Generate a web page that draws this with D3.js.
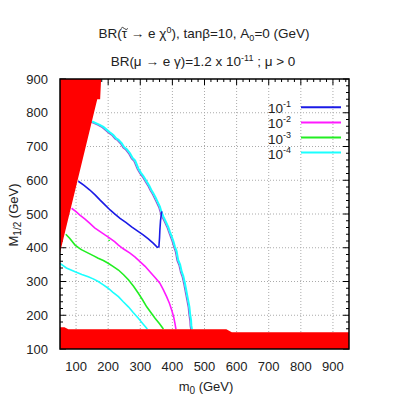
<!DOCTYPE html>
<html>
<head>
<meta charset="utf-8">
<script src="https://cdn.jsdelivr.net/npm/d3@7"></script>
<style>
  body { margin: 0; background: #fff; }
  text { font-family: "Liberation Sans", Arial, sans-serif; fill: #222; }
</style>
</head>
<body>
<svg id="chart" width="399" height="399"></svg>
<script>
// tick values
const xTicks = [100, 200, 300, 400, 500, 600, 700, 800, 900];
const yTicks = [100, 200, 300, 400, 500, 600, 700, 800, 900];

// legend entries: exponent of BR
const legendExp = ["-1", "-2", "-3", "-4"];
const legendColors = ["#1a1ae6", "#ff1aff", "#22ee22", "#1affff"];

// contours [m0, M1/2]
const br1 = [[107,597],[125,585],[143,571],[160,556],[175,541],[190,527],[206,512],[222,499],[237,487],[255,475],[273,462],[291,450],[309,438],[325,426],[341,413],[353,401],[358,403],[360,430],[361,452],[363,480],[365,495],[367,508]];
const br2 = [[86,517],[100,507],[112,497],[128,485],[143,472],[158,459],[175,448],[190,438],[206,428],[220,418],[232,408],[247,397],[268,384],[284,372],[299,359],[315,345],[330,329],[346,312],[361,295],[372,275],[382,255],[391,235],[398,215],[404,195],[408,176],[411,159]];
const br3 = [[68,440],[80,428],[97,408],[115,395],[138,384],[155,376],[169,369],[185,362],[200,354],[215,345],[232,334],[248,320],[263,305],[279,286],[294,265],[307,246],[320,225],[333,208],[346,191],[360,175],[372,159]];
const br4 = [[50,354],[70,340],[97,329],[118,321],[138,314],[155,307],[169,300],[185,290],[200,280],[215,268],[232,255],[247,240],[263,225],[278,208],[294,191],[308,175],[322,159]];
const br3dot = [[203,420],[203,424]];

// outer boundary where all contours pile up
const boundary = [[150,774],[160,770],[172,765],[185,758],[195,750],[205,742],[216,734],[225,724],[232,720],[242,710],[250,698],[258,692],[268,680],[276,666],[284,658],[294,635],[302,622],[310,612],[320,596],[328,584],[334,572],[341,561],[348,548],[354,536],[361,522],[366,506],[372,492],[378,480],[387,462],[392,448],[398,433],[403,420],[408,403],[413,390],[418,364],[424,350],[429,329],[434,316],[439,295],[442,280],[445,265],[448,250],[453,225],[455,205],[458,186],[459,170],[461,158]];

// excluded regions
const redTop = [[50,900],[178,900],[175,840],[166,840],[50,385]];
const redBottom = [[50,100],[50,164.5],[64,164.5],[76,158.5],[568,158.5],[585,149.5],[950,149.5],[950,100]];

const svg = d3.select("#chart");
const x = d3.scaleLinear().domain([50, 950]).range([60, 349]);
const y = d3.scaleLinear().domain([100, 900]).range([349, 79]);
const line = d3.line().x(d => x(d[0])).y(d => y(d[1]));

// grid
const grid = svg.append("g").attr("stroke", "#aaa").attr("stroke-dasharray", "1,2").attr("stroke-width", 1);
grid.selectAll(".gx").data(xTicks).enter().append("line")
  .attr("x1", d => x(d)).attr("x2", d => x(d)).attr("y1", 79).attr("y2", 349);
grid.selectAll(".gy").data(yTicks.slice(1, -1)).enter().append("line")
  .attr("x1", 60).attr("x2", 349).attr("y1", d => y(d)).attr("y2", d => y(d));

// minor + major ticks on all sides
const ticks = svg.append("g").attr("stroke", "#000").attr("stroke-width", 1);
const xMinor = d3.range(60, 950, 20);
const yMinor = d3.range(100, 901, 20);
ticks.selectAll(".xt").data(xMinor).enter().append("path")
  .attr("d", d => {
    const len = d % 100 === 0 ? 6 : 3;
    return `M${x(d)},79v${len}M${x(d)},349v${-len}`;
  });
ticks.selectAll(".yt").data(yMinor).enter().append("path")
  .attr("d", d => {
    const len = d % 100 === 0 ? 6 : 3;
    return `M60,${y(d)}h${len}M349,${y(d)}h${-len}`;
  });

// boundary (purple edge + cyan)
svg.append("path").datum(boundary).attr("d", line)
  .attr("fill", "none").attr("stroke", "#9a5ad0").attr("stroke-width", 1.2)
  .attr("transform", "translate(-1.2,0.6)");
svg.append("path").datum(boundary).attr("d", line)
  .attr("fill", "none").attr("stroke", legendColors[3]).attr("stroke-width", 2);

// contours
[br1, br2, br3, br4].forEach((c, i) => {
  svg.append("path").datum(c).attr("d", line)
    .attr("fill", "none").attr("stroke", legendColors[i]).attr("stroke-width", 1.6);
});
svg.append("path").datum(br3dot).attr("d", line)
  .attr("fill", "none").attr("stroke", legendColors[2]).attr("stroke-width", 1.6);

// red excluded regions
svg.append("path").datum(redTop).attr("d", d => line(d) + "Z").attr("fill", "#ff0000");
svg.append("path").datum(redBottom).attr("d", d => line(d) + "Z").attr("fill", "#ff0000");

// frame
svg.append("rect").attr("x", 60).attr("y", 79).attr("width", 289).attr("height", 270)
  .attr("fill", "none").attr("stroke", "#000").attr("stroke-width", 1.5);

// tick labels
svg.selectAll(".xl").data(xTicks).enter().append("text")
  .attr("x", d => x(d)).attr("y", 371).attr("text-anchor", "middle")
  .attr("font-size", 13).text(d => d);
svg.selectAll(".yl").data(yTicks).enter().append("text")
  .attr("x", 48).attr("y", d => y(d) + 4.7).attr("text-anchor", "end")
  .attr("font-size", 13).text(d => d);

// axis titles
const xl = svg.append("text").attr("x", 206).attr("y", 391).attr("text-anchor", "middle").attr("font-size", 13);
xl.append("tspan").text("m");
xl.append("tspan").attr("dy", 3).attr("font-size", 10).text("0");
xl.append("tspan").attr("dy", -3).text(" (GeV)");

const yl = svg.append("text").attr("transform", "translate(18,215) rotate(-90)")
  .attr("text-anchor", "middle").attr("font-size", 13);
yl.append("tspan").text("M");
yl.append("tspan").attr("dy", 3).attr("font-size", 10).text("1/2");
yl.append("tspan").attr("dy", -3).text(" (GeV)");

// titles
const t1 = svg.append("text").attr("x", 204).attr("y", 38).attr("text-anchor", "middle").attr("font-size", 13.5);
t1.append("tspan").text("BR(\u03C4 \u2192  e \u03C7");
t1.append("tspan").attr("dy", -5).attr("font-size", 9).text("0");
t1.append("tspan").attr("dy", 5).text("),  tan\u03B2=10, A");
t1.append("tspan").attr("dy", 3).attr("font-size", 9).text("0");
t1.append("tspan").attr("dy", -3).text("=0 (GeV)");
// tilde over tau, drawn as a small wave
const tauPos = t1.node().getStartPositionOfChar(3);
const tauW = t1.node().getSubStringLength(3, 1);
const tx = tauPos.x + tauW / 2;
svg.append("path")
  .attr("d", `M${tx - 3.5},${28.5} q1.7,-2.2 3.5,0 t3.5,0`)
  .attr("fill", "none").attr("stroke", "#222").attr("stroke-width", 0.9);

const t2 = svg.append("text").attr("x", 203).attr("y", 66).attr("text-anchor", "middle").attr("font-size", 13.5);
t2.append("tspan").text("BR(\u03BC \u2192 e \u03B3)=1.2 x 10");
t2.append("tspan").attr("dy", -5).attr("font-size", 9).text("-11");
t2.append("tspan").attr("dy", 5).text(" ; \u03BC > 0");

// legend
const leg = svg.selectAll(".leg").data(legendExp).enter().append("g")
  .attr("transform", (d, i) => `translate(0,${107.3 + i * 15.1})`);
leg.append("line").attr("x1", 301).attr("x2", 341).attr("y1", 0).attr("y2", 0)
  .attr("stroke", (d, i) => legendColors[i]).attr("stroke-width", 2);
const lt = leg.append("text").attr("x", 268).attr("y", 6).attr("font-size", 13.5);
lt.append("tspan").text("10");
lt.append("tspan").attr("dy", -6).attr("font-size", 9).text(d => d);
</script>
</body>
</html>
